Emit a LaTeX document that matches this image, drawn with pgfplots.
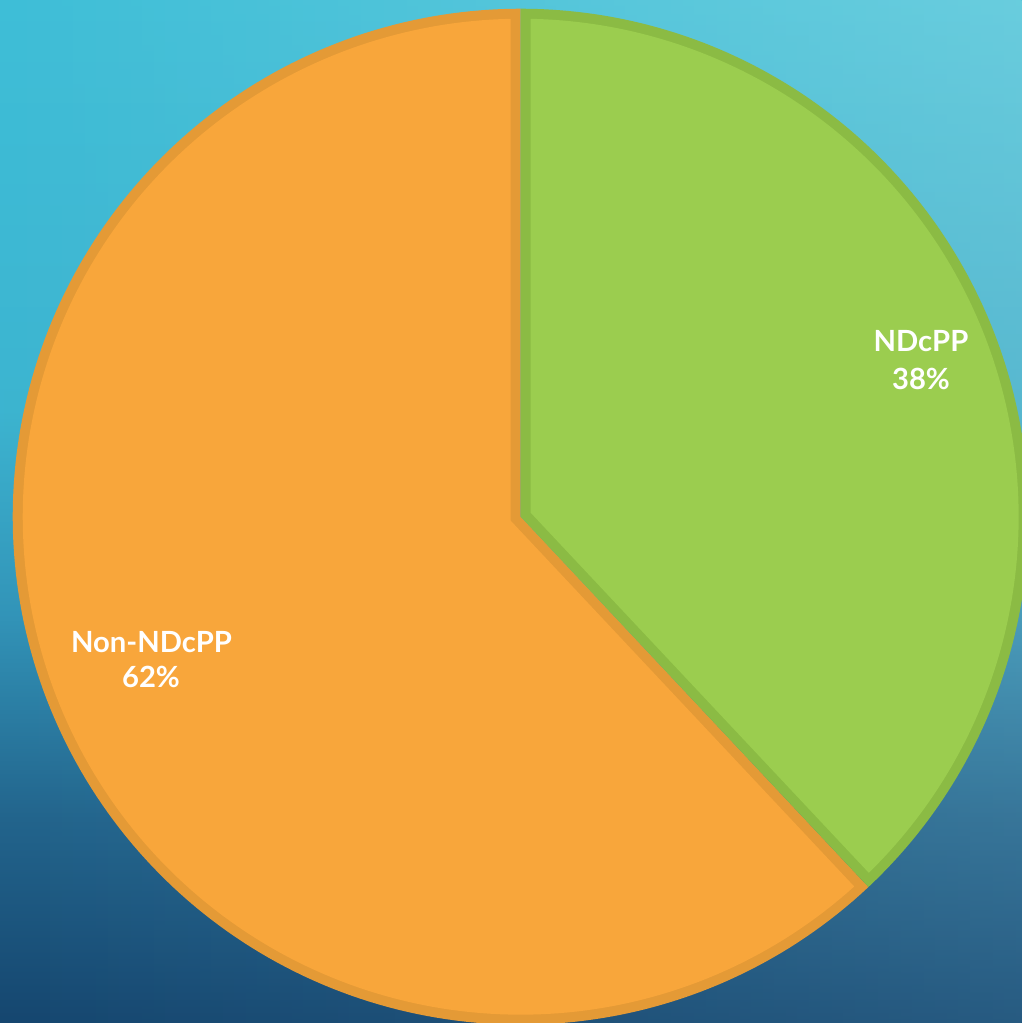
\documentclass[border=0pt]{standalone}
\usepackage{fontspec}
\setmainfont{Lato}
\usepackage{pgfplots}
\usepackage{pgfplotstable}
\pgfplotsset{compat=1.18}
\usepgfplotslibrary{polar}
\usetikzlibrary{fadings}
\definecolor{grn}{RGB}{155,205,79}
\definecolor{grnB}{RGB}{139,187,68}
\definecolor{org}{RGB}{248,166,59}
\definecolor{orgB}{RGB}{228,154,54}
\definecolor{bg0}{RGB}{21,70,111}
\definecolor{bg1}{RGB}{34,100,140}
\definecolor{bg2}{RGB}{50,148,184}
\definecolor{bg3}{RGB}{60,180,208}
\definecolor{bg4}{RGB}{62,190,215}
\definecolor{ovtop}{RGB}{185,233,235}
\definecolor{ovbot}{RGB}{73,129,163}
\pgfdeclareverticalshading{bgshade}{100bp}{color(0bp)=(bg0); color(25bp)=(bg0); color(35bp)=(bg1); color(45bp)=(bg2); color(55bp)=(bg3); color(75bp)=(bg4); color(100bp)=(bg4)}
\tikzfading[name=fade right, left color=transparent!100, right color=transparent!65]
\pgfplotstableread{
label value
NDcPP 38
Non-NDcPP 62
}\piedata
\begin{document}
\begin{tikzpicture}
\useasboundingbox (0,0) rectangle (511pt,511.5pt);
\clip (0,0) rectangle (511pt,511.5pt);
\shade[shading=bgshade] (0,0) rectangle (511pt,511.5pt);
\shade[top color=ovtop, bottom color=ovbot, path fading=fade right] (0,0) rectangle (511pt,511.5pt);
\pgfplotstablegetelem{0}{value}\of\piedata \let\va\pgfplotsretval
\pgfplotstablegetelem{1}{value}\of\piedata \let\vb\pgfplotsretval
\pgfmathsetmacro{\gs}{90-\va*3.6}
\pgfmathsetmacro{\ge}{90}
\pgfmathsetmacro{\os}{90}
\pgfmathsetmacro{\oe}{90+\vb*3.6}
\pgfmathsetmacro{\dd}{10/507}
\pgfmathsetmacro{\ri}{1-\dd}
\pgfmathsetmacro{\da}{asin(\dd/\ri)}
\pgfmathsetmacro{\gsi}{\gs+\da}
\pgfmathsetmacro{\gei}{\ge-\da}
\pgfmathsetmacro{\osi}{\os+\da}
\pgfmathsetmacro{\oei}{\oe-\da}
\pgfmathsetmacro{\gm}{(\gs+\ge)/2}
\pgfmathsetmacro{\om}{(\os+\oe)/2}
\pgfmathsetmacro{\gr}{\dd/sin((\ge-\gs)/2)}
\pgfmathsetmacro{\orr}{\dd/sin((\oe-\os)/2)}
\begin{polaraxis}[at={(260.35pt,253.15pt)}, anchor=center, scale only axis,
  width=508pt, height=508pt, hide axis, ymin=0, ymax=1, xmin=0, xmax=360, clip=false]
\addplot[fill=orgB, draw=none, domain=\os:\oe, samples=200] {1} -- (axis cs:0,0) -- cycle;
\addplot[fill=org, draw=none, domain=\osi:\oei, samples=200] {\ri} -- (axis cs:\om,\orr) -- cycle;
\addplot[fill=grnB, draw=none, domain=\gs:\ge, samples=150] {1} -- (axis cs:0,0) -- cycle;
\addplot[fill=grn, draw=none, domain=\gsi:\gei, samples=150] {\ri} -- (axis cs:\gm,\gr) -- cycle;
\end{polaraxis}
\begin{scope}[every node/.style={text=white, font=\fontsize{14.6pt}{18pt}\selectfont\bfseries, anchor=base, inner sep=0pt}]
\node at (460.5pt,335.5pt) {NDcPP};
\node at (460.5pt,316.5pt) {38\%};
\node at (75.75pt,185pt) {Non-NDcPP};
\node at (75.5pt,167.5pt) {62\%};
\end{scope}
\end{tikzpicture}
\end{document}
